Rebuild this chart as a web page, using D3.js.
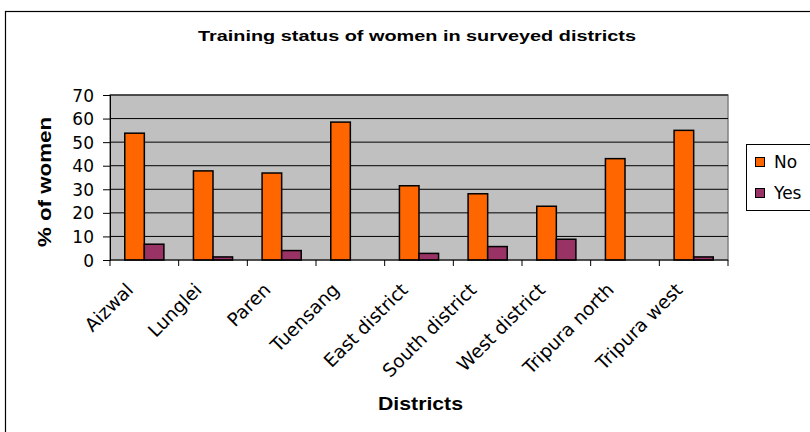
<!DOCTYPE html>
<html><head><meta charset="utf-8">
<script src="https://cdn.jsdelivr.net/npm/d3@7"></script>
<style>body{margin:0;background:#fff}svg{display:block;font-family:"DejaVu Sans",Arial,sans-serif}</style>
</head><body><svg id="c" width="810" height="432"></svg>
<script>
const categories = ["Aizwal","Lunglei","Paren","Tuensang","East district","South district","West district","Tripura north","Tripura west"];
const seriesNames = ["No","Yes"];
const noValues = [53.8, 37.8, 36.9, 58.5, 31.5, 28.1, 22.8, 43.0, 55.0];
const yesValues = [6.7, 1.3, 4.0, 0, 2.8, 5.7, 8.8, 0, 1.3];
const yTicks = [0,10,20,30,40,50,60,70];
const colors = ["#FF6600","#993366"];

const svg = d3.select("#c");
const L = 110, R = 728, T = 95, B = 260;

// outer frame
svg.append("rect").attr("x",5.5).attr("y",11.5).attr("width",820).attr("height",440)
  .attr("fill","#fff").attr("stroke","#000").attr("stroke-width",1.2);

const x = d3.scaleBand().domain(categories).range([L,R]);
const y = d3.scaleLinear().domain([0,70]).range([B,T]);

svg.append("rect").attr("x",L).attr("y",T).attr("width",R-L).attr("height",B-T)
  .attr("fill","#C0C0C0").attr("stroke","#808080").attr("stroke-width",1.5);

// gridlines
svg.append("g").selectAll("line").data(yTicks.filter(d=>d>0)).join("line")
  .attr("x1",L).attr("x2",R).attr("y1",d=>y(d)).attr("y2",d=>y(d))
  .attr("stroke","#000").attr("stroke-width",1);

// bars
const bw = x.bandwidth()*0.285;
const groups = categories.map((c,i)=>({c, vals:[noValues[i], yesValues[i]]}));
const g = svg.append("g");
groups.forEach(gr=>{
  gr.vals.forEach((v,j)=>{
    if (v<=0) return;
    g.append("rect")
      .attr("x", x(gr.c) + x.bandwidth()/2 - bw + j*bw)
      .attr("y", y(v)).attr("width", bw).attr("height", y(0)-y(v))
      .attr("fill", colors[j]).attr("stroke","#000").attr("stroke-width",1.5);
  });
});

// y axis
const ya = svg.append("g").attr("transform",`translate(${L},0)`)
  .call(d3.axisLeft(y).tickValues(yTicks).tickSize(7).tickPadding(9).tickFormat(d3.format("d")));
ya.select(".domain").attr("stroke","#000");
ya.selectAll("text").attr("font-size",17).attr("fill","#000").attr("dy","0.36em")
  .attr("font-family","DejaVu Sans");

// x axis
svg.append("line").attr("x1",L).attr("x2",R).attr("y1",B).attr("y2",B).attr("stroke","#000").attr("stroke-width",1.2);
const tickPos = categories.map(c=>x(c)).concat([R]);
svg.append("g").selectAll("line").data(tickPos).join("line")
  .attr("x1",d=>d).attr("x2",d=>d).attr("y1",B).attr("y2",B+6).attr("stroke","#000");

svg.append("g").selectAll("text").data(categories).join("text")
  .attr("transform",c=>`translate(${x(c)+x.bandwidth()/2-10},${B+31}) rotate(-45)`)
  .attr("text-anchor","end").attr("font-size",18.5).attr("fill","#000").text(c=>c);

// title
svg.append("text").attr("x",417).attr("y",41).attr("text-anchor","middle")
  .attr("font-family","Liberation Sans, Arial").attr("font-size",15).attr("font-weight","bold")
  .attr("textLength",438).attr("lengthAdjust","spacingAndGlyphs")
  .text("Training status of women in surveyed districts");
svg.append("text").attr("x",420.5).attr("y",410).attr("text-anchor","middle")
  .attr("font-family","Liberation Sans, Arial").attr("font-size",19).attr("font-weight","bold")
  .attr("textLength",85).attr("lengthAdjust","spacingAndGlyphs").text("Districts");
svg.append("text").attr("transform","translate(51,182) rotate(-90)").attr("text-anchor","middle")
  .attr("font-family","Liberation Sans, Arial").attr("font-size",19).attr("font-weight","bold")
  .attr("textLength",130).attr("lengthAdjust","spacingAndGlyphs").text("% of women");

// legend
const lg = svg.append("g");
lg.append("rect").attr("x",746.5).attr("y",144.5).attr("width",80).attr("height",66)
  .attr("fill","#fff").attr("stroke","#000");
seriesNames.forEach((s,i)=>{
  lg.append("rect").attr("x",755.5).attr("y",157.5+i*31).attr("width",9).attr("height",9)
    .attr("fill",colors[i]).attr("stroke","#000");
  lg.append("text").attr("x",774).attr("y",168+i*31).attr("font-size",17).text(s);
});
</script></body></html>
